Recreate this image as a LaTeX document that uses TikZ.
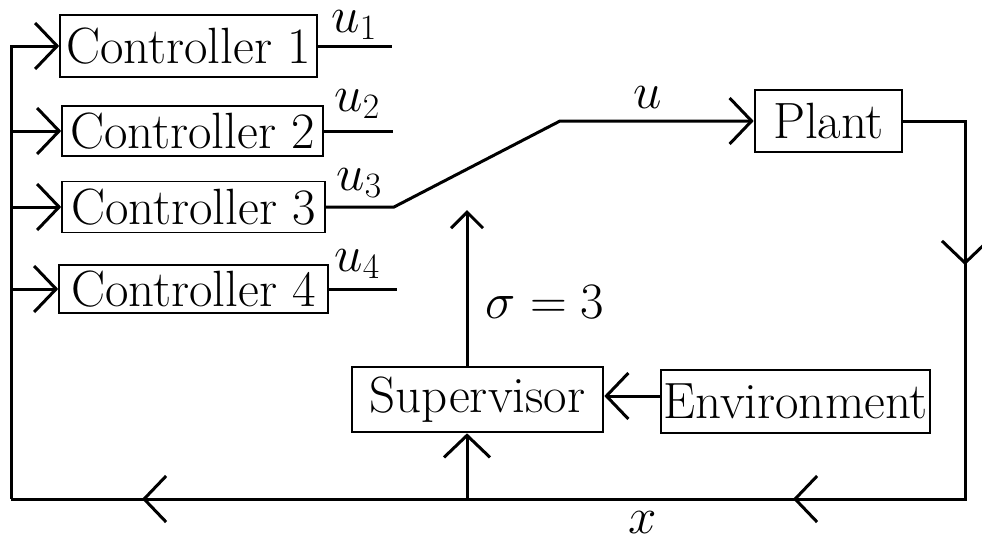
\RequirePackage{fix-cm}
\documentclass[tikz,border=0pt]{standalone}
\usetikzlibrary{arrows.meta}
\begin{document}
\begin{tikzpicture}[x=1pt,y=-1pt, line width=3pt,
  font=\fontsize{51}{60}\selectfont,
  box/.style={draw, line width=1.6pt, inner sep=0pt},
  bigbox/.style={draw, line width=2.6pt, inner sep=0pt},
  barb/.style={-{Straight Barb[length=22pt,width=46pt]}},
  sbarb/.style={-{Straight Barb[length=16pt,width=32pt]}},
  lbl/.style={inner sep=0pt}
]
\useasboundingbox (0,0) rectangle (982,539);
% controllers
\node[box, minimum width=257pt, minimum height=62pt] (c1) at (188.5,46) {Controller 1};
\node[box, minimum width=261pt, minimum height=50pt] (c2) at (192.5,131) {Controller 2};
\node[box, minimum width=263pt, minimum height=51pt] (c3) at (193.5,207) {Controller 3};
\node[box, minimum width=269pt, minimum height=48pt] (c4) at (193.5,289) {Controller 4};
% other blocks
\node[bigbox, minimum width=147pt, minimum height=62pt] (plant) at (828.5,121) {Plant};
\node[bigbox, minimum width=251pt, minimum height=65pt] (sup) at (477.5,399.5) {Supervisor};
\node[bigbox, minimum width=269pt, minimum height=63pt] (env) at (795.5,401.5) {Environment};
% coordinates
\coordinate (tl) at (11,45);
\coordinate (bl) at (11,499);
\coordinate (rt) at (965,121);
\coordinate (rb) at (965,499);
\coordinate (s1) at (394,207);
\coordinate (s2) at (560,121);
\coordinate (sv) at (467,499);
\coordinate (sigtip) at (467,210);
\coordinate (ra) at (965,265);
\coordinate (ba1) at (793,499);
\coordinate (ba2) at (142,499);
\coordinate (ea) at (0,396);
\coordinate (u1e) at (392,45);
\coordinate (u2e) at (393,129);
\coordinate (u4e) at (397,287);
% feedback bus
\draw (tl) -- (bl);
\draw[barb] (tl |- c1.west) -- (c1.west);
\draw[barb] (tl |- c2.west) -- (c2.west);
\draw[barb] (tl |- c3.west) -- (c3.west);
\draw[barb] (tl |- c4.west) -- (c4.west);
% controller outputs
\draw (c1.east) -- (c1.east -| u1e);
\draw (c2.east) -- (c2.east -| u2e);
\draw (c4.east) -- (c4.east -| u4e);
\draw[barb] (c3.east) -- (s1) -- (s2) -- (plant.west);
% plant output loop
\draw (plant.east) -- (rt) -- (rb) -- (bl);
\draw[barb] (rt) -- (ra);
\draw[barb] (rb) -- (ba1);
\draw[barb] (ba1) -- (ba2);
% supervisor
\draw[barb] (sv) -- (sv |- sup.south);
\draw[sbarb] (sv |- sup.north) -- (sigtip);
\draw[barb] (env.west |- ea) -- (sup.east |- ea);
% labels
\node[lbl] (lu1) at (354,25) {$u_1$};
\node[lbl] (lu2) at (357,104) {$u_2$};
\node[lbl] (lu3) at (359,183) {$u_3$};
\node[lbl] (lu4) at (357,264) {$u_4$};
\node[lbl] (lu) at (648,98) {$u$};
\node[lbl] (lsig) at (545,302) {$\sigma=3$};
\node[lbl] (lx) at (643,523) {$x$};
\end{tikzpicture}
\end{document}
